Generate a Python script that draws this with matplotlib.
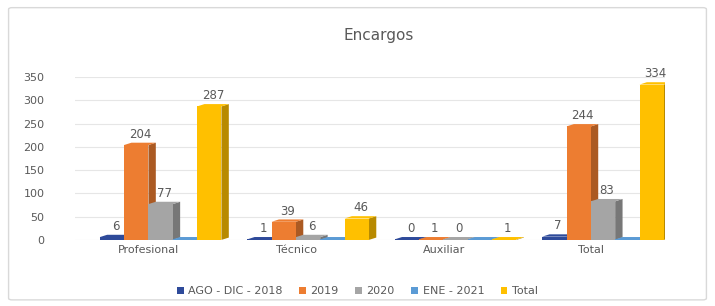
import matplotlib.pyplot as plt
import matplotlib.colors as mcolors
from matplotlib.patches import Polygon, FancyBboxPatch
import numpy as np

categories = ['Profesional', 'Técnico', 'Auxiliar', 'Total']
series = ['AGO - DIC - 2018', '2019', '2020', 'ENE - 2021', 'Total']
ago_dic_2018 = [6, 1, 0, 7]
y2019 = [204, 39, 1, 244]
y2020 = [77, 6, 0, 83]
ene_2021 = [0, 0, 0, 0]
total = [287, 46, 1, 334]
values = [ago_dic_2018, y2019, y2020, ene_2021, total]
show_labels = [True, True, True, False, True]
colors = ['#2E4A9A', '#ED7D31', '#A5A5A5', '#5B9BD5', '#FFC000']

fig = plt.figure(figsize=(7.15, 3.06), dpi=100)
fig.patches.append(FancyBboxPatch((0.012, 0.02), 0.976, 0.955, boxstyle='round,pad=0,rounding_size=0.005',
                                  transform=fig.transFigure, fill=False, edgecolor='#d9d9d9', linewidth=1))
ax = fig.add_axes([0.105, 0.216, 0.825, 0.532])

x = np.arange(len(categories))
w = 0.165
shift = 0.08
dx = 0.05
dy = 5

def shade(c, f):
    r, g, b = mcolors.to_rgb(c)
    return (r * f, g * f, b * f)

for i, (vals, col) in enumerate(zip(values, colors)):
    xs = x + (i - 2) * w + shift
    for xc, v in zip(xs, vals):
        h = max(v, 1.2)
        x0, x1 = xc - w / 2, xc + w / 2
        ax.add_patch(Polygon([(x1, 0), (x1 + dx, dy), (x1 + dx, h + dy), (x1, h)],
                             closed=True, facecolor=shade(col, 0.72), edgecolor='none', zorder=3 + i))
        ax.add_patch(Polygon([(x0, h), (x0 + dx, h + dy), (x1 + dx, h + dy), (x1, h)],
                             closed=True, facecolor=shade(col, 1.0), edgecolor='none', zorder=3 + i))
    ax.bar(xs, [max(v, 1.2) for v in vals], width=w, color=col, zorder=3 + i, label=series[i])
    if show_labels[i]:
        for xc, v in zip(xs, vals):
            ax.text(xc + dx / 2, max(v, 1.2) + dy + 4, str(v), ha='center', va='bottom',
                    fontsize=8.5, color='#595959', zorder=10)

ax.set_xlim(-0.5, 3.5)
ax.set_ylim(0, 350)
ax.set_yticks(range(0, 351, 50))
ax.set_xticks(x)
ax.set_xticklabels(categories)
ax.tick_params(axis='both', length=0, labelsize=8, colors='#595959')
ax.tick_params(axis='y', pad=22)
ax.grid(axis='y', color='#e6e6e6', linewidth=0.8, zorder=0)
for s in ax.spines.values():
    s.set_visible(False)

fig.text(0.53, 0.885, 'Encargos', ha='center', va='center', fontsize=11, color='#595959')
fig.legend(loc='lower center', bbox_to_anchor=(0.5, 0.0), ncol=5, frameon=False, fontsize=8,
           handlelength=0.6, handleheight=0.6, handletextpad=0.4, columnspacing=1.5,
           labelcolor='#595959')

fig.savefig('out.png', dpi=100)
